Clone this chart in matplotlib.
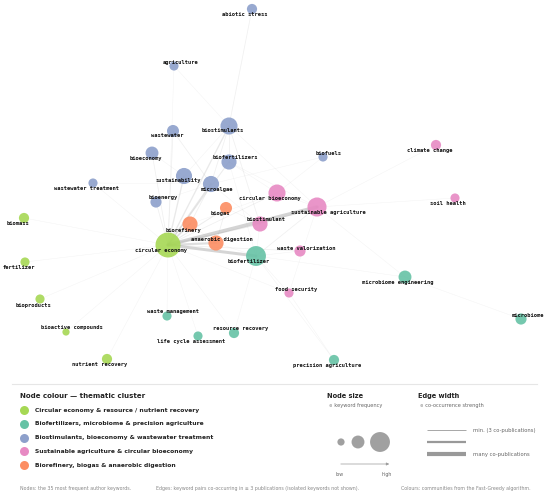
import matplotlib
matplotlib.use("Agg")
import matplotlib.pyplot as plt
import numpy as np

# cluster palette (Set2)
cluster_colors = {
    "G": "#a6d854",
    "T": "#66c2a5",
    "B": "#8da0cb",
    "P": "#e78ac3",
    "O": "#fc8d62",
}
cluster_names = [
    ("G", "Circular economy & resource / nutrient recovery"),
    ("T", "Biofertilizers, microbiome & precision agriculture"),
    ("B", "Biostimulants, bioeconomy & wastewater treatment"),
    ("P", "Sustainable agriculture & circular bioeconomy"),
    ("O", "Biorefinery, biogas & anaerobic digestion"),
]

# nodes: keyword, cluster, layout x, layout y, frequency
keywords = [
    "abiotic stress", "agriculture", "biostimulants", "wastewater", "bioeconomy",
    "biofertilizers", "sustainability", "microalgae", "wastewater treatment",
    "bioenergy", "biofuels", "climate change", "circular bioeconomy",
    "sustainable agriculture", "biostimulant", "soil health", "waste valorization",
    "food security", "biogas", "biorefinery", "anaerobic digestion",
    "circular economy", "biomass", "fertilizer", "bioproducts",
    "bioactive compounds", "nutrient recovery", "biofertilizer",
    "waste management", "life cycle assessment", "resource recovery",
    "microbiome engineering", "microbiome", "precision agriculture",
]
clusters = [
    "B", "B", "B", "B", "B",
    "B", "B", "B", "B",
    "B", "B", "P", "P",
    "P", "P", "P", "P",
    "P", "O", "O", "O",
    "G", "G", "G", "G",
    "G", "G", "T",
    "T", "T", "T",
    "T", "T", "T",
]
pos_x = [252, 174, 229, 173, 152, 229, 184, 211, 93, 156, 323, 436, 277,
         317, 260, 455, 300, 289, 226, 190, 216, 168, 24, 25, 40, 66, 107,
         256, 167, 198, 234, 405, 521, 334]
pos_y = [9, 66, 126, 131, 153, 162, 176, 184, 183, 202, 157, 145, 193,
         207, 224, 198, 251, 293, 208, 224, 243, 245, 218, 262, 299, 332, 359,
         256, 316, 336, 333, 277, 319, 360]
freq = [10, 8, 28, 14, 16, 22, 25, 25, 8, 12, 8, 10, 28,
        35, 22, 8, 12, 8, 14, 22, 22, 60, 10, 8, 8, 5, 10,
        38, 8, 8, 10, 16, 12, 10]

# label offsets from node centre
label_dx = [-7, 7, -6, -6, -6, 6, -6, 6, -7, 7, 6, -6, -7,
            11, 6, -7, 6, 7, -6, -6, 6, -7, -6, -6, -7, 6, -7,
            -7, 6, -7, 7, -7, 7, -7]
label_dy = [5, -4, 4, 4, 5, -5, 4, 5, 5, -5, -4, 5, 5,
            5, -5, 5, -3, -4, 5, 6, -4, 5, 5, 5, 6, -5, 5,
            5, -5, 5, -5, 5, -4, 5]

# co-occurrence edges (number of shared publications)
edges = [
    ("circular economy", "sustainable agriculture", 14),
    ("circular economy", "biofertilizer", 12),
    ("circular economy", "anaerobic digestion", 9),
    ("circular economy", "biorefinery", 8),
    ("circular economy", "microalgae", 7),
    ("circular economy", "biostimulants", 6),
    ("circular economy", "sustainability", 6),
    ("circular economy", "biostimulant", 6),
    ("circular economy", "biofertilizers", 5),
    ("circular economy", "biogas", 5),
    ("circular economy", "circular bioeconomy", 4),
    ("circular economy", "bioeconomy", 4),
    ("circular economy", "wastewater", 4),
    ("circular economy", "bioenergy", 4),
    ("circular economy", "waste valorization", 4),
    ("circular economy", "wastewater treatment", 3),
    ("circular economy", "biomass", 3),
    ("circular economy", "fertilizer", 3),
    ("circular economy", "bioproducts", 3),
    ("circular economy", "bioactive compounds", 3),
    ("circular economy", "nutrient recovery", 3),
    ("circular economy", "waste management", 3),
    ("circular economy", "life cycle assessment", 3),
    ("circular economy", "resource recovery", 3),
    ("circular economy", "food security", 3),
    ("circular economy", "agriculture", 3),
    ("abiotic stress", "biostimulants", 4),
    ("biostimulants", "biostimulant", 4),
    ("biostimulants", "sustainable agriculture", 3),
    ("biostimulants", "microalgae", 4),
    ("biostimulants", "biofertilizers", 4),
    ("biofertilizers", "biofertilizer", 3),
    ("biofertilizers", "sustainable agriculture", 3),
    ("microalgae", "wastewater", 4),
    ("microalgae", "wastewater treatment", 3),
    ("microalgae", "biorefinery", 4),
    ("microalgae", "bioenergy", 3),
    ("microalgae", "biofuels", 3),
    ("microalgae", "biostimulant", 3),
    ("biostimulant", "sustainable agriculture", 4),
    ("biostimulant", "biofertilizer", 3),
    ("sustainable agriculture", "biofertilizer", 4),
    ("sustainable agriculture", "soil health", 3),
    ("sustainable agriculture", "climate change", 3),
    ("sustainable agriculture", "circular bioeconomy", 3),
    ("sustainable agriculture", "food security", 3),
    ("sustainable agriculture", "microbiome engineering", 3),
    ("biofertilizer", "microbiome engineering", 3),
    ("biofertilizer", "precision agriculture", 3),
    ("biofertilizer", "resource recovery", 3),
    ("biofertilizer", "food security", 3),
    ("microbiome engineering", "microbiome", 3),
    ("biofuels", "circular bioeconomy", 3),
    ("biogas", "anaerobic digestion", 4),
    ("biorefinery", "anaerobic digestion", 3),
    ("biogas", "biostimulant", 3),
    ("anaerobic digestion", "biofertilizer", 3),
    ("circular bioeconomy", "biofertilizers", 3),
    ("sustainability", "biostimulants", 3),
    ("bioeconomy", "sustainability", 3),
    ("waste valorization", "biofertilizer", 3),
    ("circular bioeconomy", "biorefinery", 3),
    ("agriculture", "biostimulants", 3),
    ("food security", "precision agriculture", 3),
]

footer = [
    "Nodes: the 35 most frequent author keywords.",
    "Edges: keyword pairs co-occurring in \u2265 3 publications (isolated keywords not shown).",
    "Colours: communities from the Fast-Greedy algorithm.",
]

W, H = 550, 498
fig = plt.figure(figsize=(W / 100, H / 100), dpi=100)
ax = fig.add_axes([0, 0, 1, 1])
ax.set_xlim(0, W)
ax.set_ylim(H, 0)
ax.axis("off")

idx = {k: i for i, k in enumerate(keywords)}


def node_size(f):
    r = np.sqrt(f * 2.6)          # radius in px
    return (2 * r * 0.72) ** 2    # scatter area in pt^2


# edges
for a, b, w in edges:
    i, j = idx[a], idx[b]
    lw = 0.35 + (w - 3) * 0.2
    alpha = min(0.12 + (w - 3) * 0.035, 0.45)
    ax.plot([pos_x[i], pos_x[j]], [pos_y[i], pos_y[j]], color="#a0a0a0",
            lw=lw, alpha=alpha, solid_capstyle="round", zorder=1)

# nodes
ax.scatter(pos_x, pos_y, s=[node_size(f) for f in freq],
           c=[cluster_colors[c] for c in clusters], alpha=0.9,
           linewidths=0, zorder=2)

for i, k in enumerate(keywords):
    ax.text(pos_x[i] + label_dx[i], pos_y[i] + label_dy[i], k,
            fontsize=3.9, family="DejaVu Sans Mono", fontweight="bold",
            ha="center", va="center", color="#111111", zorder=3)

# legend area
ax.plot([12, 537], [384, 384], color="#e6e6e6", lw=0.8)

ax.text(20, 396, "Node colour \u2014 thematic cluster", fontsize=5.0,
        fontweight="bold", ha="left", va="center", color="#222222")
for n, (c, name) in enumerate(cluster_names):
    y = 410 + n * 13.8
    ax.scatter([24], [y], s=(9 * 0.72) ** 2, color=cluster_colors[c],
               linewidths=0)
    ax.text(35, y, name, fontsize=4.3, fontweight="bold", ha="left",
            va="center", color="#222222")

# node size legend
ax.text(327, 396, "Node size", fontsize=4.8, fontweight="bold",
        ha="left", va="center", color="#222222")
ax.text(329, 405, "\u221d keyword frequency", fontsize=3.6, ha="left",
        va="center", color="#666666")
size_demo = [5, 16, 38]
size_x = [341, 358, 380]
ax.scatter(size_x, [442] * 3, s=[node_size(f) for f in size_demo],
           color="#a0a0a0", linewidths=0)
ax.annotate("", xy=(392, 464), xytext=(338, 464),
            arrowprops=dict(arrowstyle="-|>", color="#9a9a9a", lw=0.5,
                            mutation_scale=4))
ax.text(340, 474, "low", fontsize=3.4, ha="center", va="center",
        color="#666666")
ax.text(387, 474, "high", fontsize=3.4, ha="center", va="center",
        color="#666666")

# edge width legend
ax.text(418, 396, "Edge width", fontsize=4.8, fontweight="bold",
        ha="left", va="center", color="#222222")
ax.text(420, 405, "\u221d co-occurrence strength", fontsize=3.6,
        ha="left", va="center", color="#666666")
for y, lw in zip([430, 442, 454], [0.6, 1.6, 3.0]):
    ax.plot([427, 466], [y, y], color="#999999", lw=lw, solid_capstyle="butt")
ax.text(473, 430, "min. (3 co-publications)", fontsize=3.8, ha="left",
        va="center", color="#666666")
ax.text(473, 454, "many co-publications", fontsize=3.8, ha="left",
        va="center", color="#666666")

# footer
for x, t in zip([20, 156, 401], footer):
    ax.text(x, 488, t, fontsize=3.45, ha="left", va="center", color="#888888")

fig.savefig("out.png", dpi=100)
